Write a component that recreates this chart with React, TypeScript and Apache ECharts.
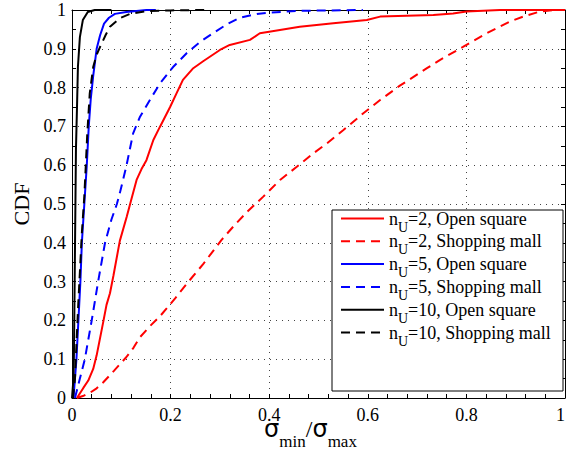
import { useEffect, useRef } from "react";
import * as echarts from "echarts";

const xTicks = [0, 0.2, 0.4, 0.6, 0.8, 1];
const yTicks = [0, 0.1, 0.2, 0.3, 0.4, 0.5, 0.6, 0.7, 0.8, 0.9, 1];

const seriesNames = [
  "nU=2, Open square",
  "nU=2, Shopping mall",
  "nU=5, Open square",
  "nU=5, Shopping mall",
  "nU=10, Open square",
  "nU=10, Shopping mall",
];
const legendLabels = [
  ["U", "=2, Open square"],
  ["U", "=2, Shopping mall"],
  ["U", "=5, Open square"],
  ["U", "=5, Shopping mall"],
  ["U", "=10, Open square"],
  ["U", "=10, Shopping mall"],
];

const n2Open = [
  [0.01, 0], [0.023, 0.026], [0.033, 0.045], [0.043, 0.075], [0.05, 0.11], [0.057, 0.155],
  [0.064, 0.2], [0.07, 0.24], [0.077, 0.27], [0.084, 0.315], [0.097, 0.405], [0.111, 0.467],
  [0.121, 0.515], [0.131, 0.562], [0.141, 0.59], [0.151, 0.613], [0.165, 0.665], [0.178, 0.698],
  [0.199, 0.75], [0.212, 0.785], [0.225, 0.82], [0.246, 0.85], [0.266, 0.868], [0.3, 0.897],
  [0.32, 0.91], [0.361, 0.923], [0.381, 0.94], [0.4, 0.944], [0.462, 0.957], [0.53, 0.966],
  [0.598, 0.974], [0.625, 0.983], [0.733, 0.987], [0.773, 0.991], [0.8, 0.996], [0.868, 1], [1, 1],
];
const n2Mall = [
  [0.01, 0], [0.022, 0.005], [0.036, 0.013], [0.05, 0.025], [0.063, 0.04], [0.085, 0.07],
  [0.11, 0.105], [0.125, 0.13], [0.138, 0.157], [0.158, 0.185], [0.178, 0.21], [0.21, 0.258],
  [0.235, 0.298], [0.266, 0.345], [0.303, 0.407], [0.33, 0.446], [0.357, 0.482], [0.388, 0.519],
  [0.422, 0.562], [0.456, 0.596], [0.49, 0.631], [0.517, 0.656], [0.55, 0.69], [0.591, 0.734],
  [0.625, 0.768], [0.665, 0.805], [0.72, 0.85], [0.746, 0.871], [0.793, 0.905], [0.841, 0.94],
  [0.888, 0.97], [0.915, 0.983], [0.949, 0.996], [0.976, 1], [1, 1],
];
const n5Open = [
  [0.003, 0], [0.006, 0.05], [0.009, 0.1], [0.013, 0.2], [0.017, 0.3], [0.02, 0.4], [0.025, 0.5],
  [0.03, 0.6], [0.034, 0.7], [0.038, 0.77], [0.043, 0.83], [0.05, 0.9], [0.057, 0.935],
  [0.065, 0.965], [0.075, 0.98], [0.087, 0.99], [0.11, 0.995], [0.151, 1], [0.17, 1],
];
const n5Mall = [
  [0.006, 0], [0.016, 0.05], [0.026, 0.1], [0.04, 0.2], [0.053, 0.3], [0.067, 0.4], [0.08, 0.46],
  [0.091, 0.5], [0.097, 0.528], [0.11, 0.596], [0.124, 0.682], [0.138, 0.725], [0.158, 0.768],
  [0.178, 0.81], [0.205, 0.853], [0.233, 0.889], [0.26, 0.918], [0.286, 0.94], [0.314, 0.963],
  [0.34, 0.98], [0.375, 0.99], [0.4, 0.993], [0.46, 0.998], [0.59, 1],
];
const n10Open = [
  [0, 0], [0.003, 0.05], [0.004, 0.12], [0.006, 0.38], [0.008, 0.64], [0.01, 0.742],
  [0.012, 0.853], [0.016, 0.93], [0.022, 0.974], [0.032, 0.995], [0.046, 1], [0.08, 1],
];
const n10Mall = [
  [0.002, 0], [0.006, 0.05], [0.01, 0.167], [0.013, 0.25], [0.02, 0.425], [0.025, 0.52],
  [0.028, 0.6], [0.031, 0.682], [0.036, 0.785], [0.043, 0.853], [0.05, 0.885], [0.057, 0.905],
  [0.068, 0.935], [0.077, 0.957], [0.097, 0.979], [0.118, 0.99], [0.151, 0.997], [0.2, 0.999], [0.27, 1],
];

const seriesData = [n2Open, n2Mall, n5Open, n5Mall, n10Open, n10Mall];
const seriesColors = ["#ff0000", "#ff0000", "#0000ff", "#0000ff", "#000000", "#000000"];
const seriesDashed = [false, true, false, true, false, true];

const SERIF = "Liberation Serif";
const SANS = "DejaVu Sans";

export default function App() {
  const ref = useRef<HTMLDivElement>(null);
  useEffect(() => {
    if (!ref.current) return;
    const chart = echarts.init(ref.current, null, { renderer: "svg" });
    const tickStyle = {
      show: true,
      inside: true,
      length: 4,
      lineStyle: { color: "#000", width: 1 },
    };
    const axisLineStyle = { show: true, onZero: false, lineStyle: { color: "#000", width: 1 } };
    const gridLine = { show: true, lineStyle: { color: "#444", width: 1, type: [1, 5] } };
    const option: any = {
      animation: false,
      backgroundColor: "#ffffff",
      textStyle: { fontFamily: SERIF },
      grid: { left: 72, right: 2, top: 10, bottom: 53, containLabel: false, outerBoundsMode: "none" },
      xAxis: [
        {
          type: "value",
          min: xTicks[0],
          max: xTicks[xTicks.length - 1],
          interval: xTicks[1] - xTicks[0],
          position: "bottom",
          axisLine: axisLineStyle,
          axisTick: tickStyle,
          minorTick: { show: true, splitNumber: 5, length: 4, lineStyle: { color: "#000", width: 1 } },
          splitLine: gridLine,
          axisLabel: {
            color: "#000",
            fontFamily: SERIF,
            fontSize: 18,
            margin: 8,
            alignMaxLabel: "right",
            formatter: (v: number) => String(+v.toFixed(2)),
          },
          name: "{s|σ}{sub|min}{sl|/}{s|σ}{sub|max}",
          nameLocation: "middle",
          nameGap: 9,
          nameMoveOverlap: false,
          nameTextStyle: {
            fontFamily: SERIF,
            padding: [0, 16, 0, 0],
            rich: {
              s: { fontFamily: SANS, fontSize: 24, lineHeight: 43, color: "#000", verticalAlign: "middle" },
              sl: { fontFamily: SERIF, fontSize: 24, lineHeight: 43, color: "#000", verticalAlign: "middle" },
              sub: { fontFamily: SERIF, fontSize: 17, color: "#000", verticalAlign: "bottom" },
            },
          },
        },
        {
          type: "value",
          min: xTicks[0],
          max: xTicks[xTicks.length - 1],
          interval: xTicks[1] - xTicks[0],
          position: "top",
          axisLine: axisLineStyle,
          axisTick: tickStyle,
          minorTick: { show: true, splitNumber: 5, length: 4, lineStyle: { color: "#000", width: 1 } },
          splitLine: { show: false },
          axisLabel: { show: false },
        },
      ],
      yAxis: [
        {
          type: "value",
          min: yTicks[0],
          max: yTicks[yTicks.length - 1],
          interval: yTicks[1] - yTicks[0],
          position: "left",
          axisLine: axisLineStyle,
          axisTick: tickStyle,
          minorTick: { show: true, splitNumber: 2, length: 4, lineStyle: { color: "#000", width: 1 } },
          splitLine: gridLine,
          axisLabel: {
            color: "#000",
            fontFamily: SERIF,
            fontSize: 18,
            margin: 6,
            formatter: (v: number) => String(+v.toFixed(2)),
          },
          name: "CDF",
          nameLocation: "middle",
          nameRotate: 90,
          nameGap: 40,
          nameTextStyle: { fontFamily: SERIF, fontSize: 22, color: "#000" },
        },
        {
          type: "value",
          min: yTicks[0],
          max: yTicks[yTicks.length - 1],
          interval: yTicks[1] - yTicks[0],
          position: "right",
          axisLine: axisLineStyle,
          axisTick: tickStyle,
          minorTick: { show: true, splitNumber: 2, length: 4, lineStyle: { color: "#000", width: 1 } },
          splitLine: { show: false },
          axisLabel: { show: false },
        },
      ],
      legend: {
        orient: "vertical",
        left: 340,
        top: 209.5,
        itemWidth: 43,
        itemHeight: 14,
        itemGap: -1.7,
        padding: 0,
        data: seriesNames,
        itemStyle: { color: "rgba(0,0,0,0)", borderColor: "rgba(0,0,0,0)", borderWidth: 0, opacity: 0 },
        formatter: (name: string) => {
          const i = seriesNames.indexOf(name);
          return `{m|n}{sub|${legendLabels[i][0]}}{m|${legendLabels[i][1]}}`;
        },
        textStyle: {
          fontFamily: SERIF,
          fontSize: 18,
          color: "#000",
          rich: {
            m: { fontFamily: SERIF, fontSize: 18, lineHeight: 31, color: "#000", verticalAlign: "middle" },
            sub: { fontFamily: SERIF, fontSize: 14, color: "#000", verticalAlign: "bottom" },
          },
        },
        z: 5,
      },
      graphic: [
        {
          type: "rect",
          z: 4,
          shape: { x: 332, y: 210, width: 231, height: 181 },
          style: { fill: "#ffffff", stroke: "#000000", lineWidth: 1 },
        },
      ],
      series: seriesData.map((d, i) => ({
        name: seriesNames[i],
        type: "line",
        xAxisIndex: 0,
        yAxisIndex: 0,
        data: d,
        showSymbol: false,
        symbol: "none",
        z: 2,
        lineStyle: {
          color: seriesColors[i],
          width: 2,
          type: seriesDashed[i] ? [9, 6] : "solid",
        },
        itemStyle: { color: seriesColors[i] },
      })),
    };
    chart.setOption(option);
    return () => chart.dispose();
  }, []);
  return (
    <div
      ref={ref}
      style={{ position: "fixed", left: 0, top: 0, width: 567, height: 451, background: "#fff" }}
    />
  );
}
